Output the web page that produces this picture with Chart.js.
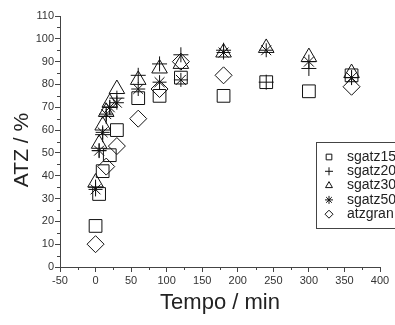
<!DOCTYPE html>
<html>
<head>
<meta charset="utf-8">
<script src="https://cdn.jsdelivr.net/npm/chart.js@4/dist/chart.umd.min.js"></script>
<style>
  html, body { margin: 0; padding: 0; background: #fff; }
  #wrap { width: 395px; height: 325px; }
</style>
</head>
<body>
<div id="wrap"><canvas id="chart"></canvas></div>
<script>
// values (time in min, ATZ in %)
const timeFull = [0, 5, 10, 15, 20, 30, 60, 90, 120, 180, 240, 300, 360];
const sgatz15Time = [0, 5, 10, 20, 30, 60, 90, 120, 180, 240, 300, 360];
const sgatz15 = [18, 32, 42, 49, 60, 74, 75, 83, 75, 81, 77, 84];
const sgatz20 = [35, 51, 58, 66, 70, 74, 84, 89, 93, 95, 81, 87, 83];
const sgatz30 = [37, 54, 62, 68, 72, 78, 82, 87, 89, 94, 96, 92, 85];
const sgatz50 = [34, 51, 59, 67, 70, 72, 78, 81, 82, 94, 95, 90, 83];
const atzgranTime = [0, 15, 30, 60, 90, 120, 180, 360];
const atzgran = [10, 44, 53, 65, 78, 90, 84, 79];

const xTicks = [-50, 0, 50, 100, 150, 200, 250, 300, 350, 400];
const yTicks = [0, 10, 20, 30, 40, 50, 60, 70, 80, 90, 100, 110];

const axisColor = '#444';
const ink = '#111';

function pts(xs, ys) {
    return ys.map((y, i) => ({ x: xs[i], y: y }));
}

function series(label, xs, ys, style, radius) {
    return {
        label: label,
        data: pts(xs, ys),
        pointStyle: style,
        pointRadius: radius,
        pointHoverRadius: radius,
        borderColor: ink,
        backgroundColor: 'rgba(0,0,0,0)',
        pointBorderWidth: 1,
        showLine: false
    };
}

// small minor ticks between the labelled ones, plus the y title
const minorTicks = {
    id: 'minorTicks',
    afterDraw(chart) {
        const ctx = chart.ctx;
        const x = chart.scales.x, y = chart.scales.y;
        const area = chart.chartArea;
        ctx.save();
        ctx.strokeStyle = axisColor;
        ctx.lineWidth = 1;
        ctx.beginPath();
        for (let i = 0; i < xTicks.length - 1; i++) {
            const px = Math.round(x.getPixelForValue((xTicks[i] + xTicks[i + 1]) / 2)) + 0.5;
            ctx.moveTo(px, area.bottom);
            ctx.lineTo(px, area.bottom + 3);
        }
        for (let i = 0; i < yTicks.length - 1; i++) {
            const py = Math.round(y.getPixelForValue((yTicks[i] + yTicks[i + 1]) / 2)) + 0.5;
            ctx.moveTo(area.left, py);
            ctx.lineTo(area.left - 3, py);
        }
        ctx.stroke();

        // y axis title
        ctx.fillStyle = '#222';
        ctx.font = '21px "Liberation Sans", Arial, sans-serif';
        ctx.textAlign = 'center';
        ctx.textBaseline = 'middle';
        ctx.translate(22, 150);
        ctx.rotate(-Math.PI / 2);
        ctx.fillText('ATZ / %', 0, 0);
        ctx.restore();
    }
};

// boxed legend, partly outside the plot like the original
const boxLegend = {
    id: 'boxLegend',
    afterDraw(chart) {
        const ctx = chart.ctx;
        ctx.save();
        ctx.strokeStyle = axisColor;
        ctx.lineWidth = 1;
        ctx.strokeRect(316.5, 142.5, 100, 86);
        ctx.font = '14px "Liberation Sans", Arial, sans-serif';
        ctx.textBaseline = 'middle';
        ctx.textAlign = 'left';
        chart.data.datasets.forEach((ds, i) => {
            const cy = 157 + i * 14.3;
            ctx.fillStyle = 'rgba(0,0,0,0)';
            ctx.strokeStyle = ink;
            Chart.helpers.drawPoint(ctx, {
                pointStyle: ds.pointStyle,
                radius: 4,
                borderWidth: 1
            }, 329, cy);
            ctx.fillStyle = '#222';
            ctx.fillText(ds.label, 347, cy);
        });
        ctx.restore();
    }
};

const ctx = document.getElementById('chart').getContext('2d');
new Chart(ctx, {
    type: 'scatter',
    data: {
        datasets: [
            series('sgatz15', sgatz15Time, sgatz15, 'rect', 9),
            series('sgatz20', timeFull, sgatz20, 'cross', 7.5),
            series('sgatz30', timeFull, sgatz30, 'triangle', 9),
            series('sgatz50', timeFull, sgatz50, 'star', 7),
            series('atzgran', atzgranTime, atzgran, 'rectRot', 8.5)
        ]
    },
    options: {
        responsive: true,
        maintainAspectRatio: false,
        animation: false,
        layout: { padding: { top: 16, right: 15, left: 0, bottom: 0 } },
        plugins: {
            legend: { display: false },
            tooltip: { enabled: false }
        },
        scales: {
            x: {
                type: 'linear',
                min: -50,
                max: 400,
                afterFit: s => { s.height = 58; },
                afterBuildTicks: s => { s.ticks = xTicks.map(v => ({ value: v })); },
                ticks: {
                    color: '#333',
                    font: { family: '"Liberation Sans", Arial, sans-serif', size: 11 },
                    padding: 2,
                    maxRotation: 0
                },
                grid: { drawOnChartArea: false, tickLength: 5, color: axisColor },
                border: { color: axisColor },
                title: {
                    display: true,
                    text: 'Tempo / min',
                    color: '#222',
                    font: { family: '"Liberation Sans", Arial, sans-serif', size: 22 },
                    padding: { top: 0, bottom: 9 }
                }
            },
            y: {
                min: 0,
                max: 110,
                afterFit: s => { s.width = 60; },
                afterBuildTicks: s => { s.ticks = yTicks.map(v => ({ value: v })); },
                ticks: {
                    color: '#333',
                    font: { family: '"Liberation Sans", Arial, sans-serif', size: 11 },
                    padding: 1
                },
                grid: { drawOnChartArea: false, tickLength: 5, color: axisColor },
                border: { color: axisColor }
            }
        }
    },
    plugins: [minorTicks, boxLegend]
});
</script>
</body>
</html>
